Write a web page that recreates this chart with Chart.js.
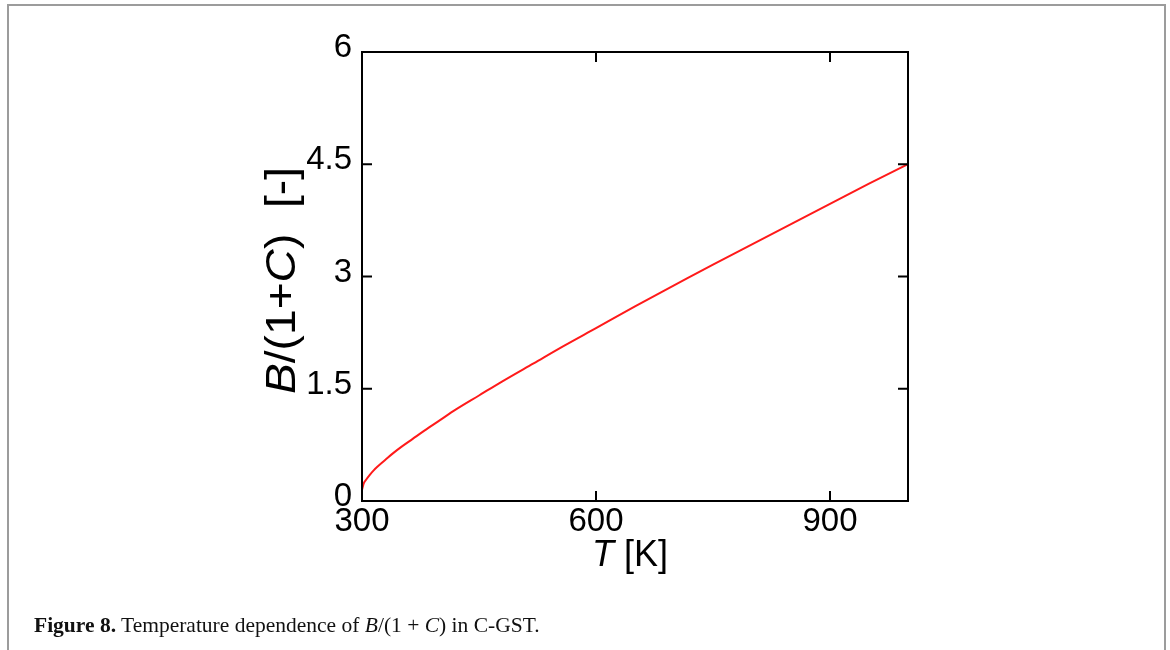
<!DOCTYPE html>
<html lang="en">
<head>
    <meta charset="UTF-8">
    <title>Figure 8</title>
    <script src="https://cdn.jsdelivr.net/npm/chart.js"></script>
    <style>
        body {
            margin: 0;
            background: #ffffff;
            width: 1170px;
            height: 650px;
            overflow: hidden;
            position: relative;
        }
        .frame {
            position: absolute;
            left: 7px;
            top: 4px;
            width: 1155px;
            height: 700px;
            border: 2px solid #9c9c9c;
        }
        .chart-box {
            position: absolute;
            left: 0;
            top: 0;
            width: 1170px;
            height: 650px;
        }
        .caption {
            position: absolute;
            left: 34px;
            top: 614px;
            font-family: 'Liberation Serif', serif;
            font-size: 21.5px;
            line-height: 1.107;
            color: #111;
            white-space: nowrap;
        }
    </style>
</head>
<body>
    <div class="frame"></div>
    <div class="chart-box">
        <canvas id="chart" width="1170" height="650"></canvas>
    </div>
    <div class="caption"><b>Figure 8.</b> Temperature dependence of <i>B</i>/(1 + <i>C</i>) in C-GST.</div>

<script>
// values
const temps = [300, 302, 305, 310, 315, 320, 330, 340, 350, 365, 380, 400, 420, 450, 480,
               520, 560, 600, 650, 700, 750, 800, 850, 900, 950, 1000];
const ratio = [0.15, 0.23, 0.28, 0.35, 0.41, 0.46, 0.55, 0.64, 0.72, 0.83, 0.94, 1.08, 1.22, 1.41, 1.60,
               1.84, 2.08, 2.31, 2.60, 2.88, 3.16, 3.43, 3.70, 3.97, 4.24, 4.50];
const xTicks = [300, 600, 900];
const yTicks = [0, 1.5, 3, 4.5, 6];

// axis titles, split so the symbols can be italic
const xTitle = [['T', true], [' [K]', false]];
const yTitle = [['B', true], ['/(1+', false], ['C', true], [')  [-]', false]];

const sans = "'Liberation Sans', Arial, sans-serif";
const tickFont = { family: sans, size: 33 };

// draws a run of text pieces starting at (x, y) in the current transform
function drawPieces(ctx, pieces, size, x, y) {
    let cx = x;
    pieces.forEach(([txt, ital]) => {
        ctx.font = (ital ? 'italic ' : '') + size + 'px ' + sans;
        ctx.fillText(txt, cx, y);
        cx += ctx.measureText(txt).width;
    });
    return cx - x;
}

function piecesWidth(ctx, pieces, size) {
    let w = 0;
    pieces.forEach(([txt, ital]) => {
        ctx.font = (ital ? 'italic ' : '') + size + 'px ' + sans;
        w += ctx.measureText(txt).width;
    });
    return w;
}

// box around the plot with inward ticks on all four sides, plus axis titles
const framePlugin = {
    id: 'frame',
    afterDraw(chart) {
        const ctx = chart.ctx;
        const a = chart.chartArea;
        const xs = chart.scales.x, ys = chart.scales.y;
        const len = 10;
        ctx.save();
        ctx.strokeStyle = '#000';
        ctx.lineWidth = 2;
        ctx.strokeRect(a.left, a.top, a.right - a.left, a.bottom - a.top);
        ctx.beginPath();
        xTicks.forEach(v => {
            const px = xs.getPixelForValue(v);
            ctx.moveTo(px, a.bottom); ctx.lineTo(px, a.bottom - len);
            ctx.moveTo(px, a.top); ctx.lineTo(px, a.top + len);
        });
        yTicks.forEach(v => {
            const py = ys.getPixelForValue(v);
            ctx.moveTo(a.left, py); ctx.lineTo(a.left + len, py);
            ctx.moveTo(a.right, py); ctx.lineTo(a.right - len, py);
        });
        ctx.stroke();

        ctx.fillStyle = '#000';
        ctx.textBaseline = 'alphabetic';
        ctx.textAlign = 'left';
        // x title
        const xw = piecesWidth(ctx, xTitle, 36);
        drawPieces(ctx, xTitle, 36, (a.left + a.right) / 2 - 5 - xw / 2, a.bottom + 65);
        // y title, rotated and a little stretched along its length
        const yw = piecesWidth(ctx, yTitle, 42);
        ctx.translate(a.left - 67, (a.top + a.bottom) / 2 + 4);
        ctx.rotate(-Math.PI / 2);
        ctx.scale(1.1, 1);
        drawPieces(ctx, yTitle, 42, -yw / 2, 0);
        ctx.restore();
    }
};

new Chart(document.getElementById('chart'), {
    type: 'line',
    data: {
        datasets: [{
            data: temps.map((t, i) => ({ x: t, y: ratio[i] })),
            borderColor: '#ff1a1a',
            borderWidth: 2,
            pointRadius: 0,
            cubicInterpolationMode: 'monotone',
            fill: false
        }]
    },
    options: {
        responsive: false,
        animation: false,
        layout: { padding: { left: 0, top: 52, right: 262, bottom: 0 } },
        plugins: { legend: { display: false }, tooltip: { enabled: false } },
        scales: {
            x: {
                type: 'linear',
                min: 300,
                max: 1000,
                afterBuildTicks: s => { s.ticks = xTicks.map(v => ({ value: v })); },
                afterFit: s => { s.height = 149; },
                grid: { display: false, drawTicks: false },
                border: { display: false },
                ticks: { font: tickFont, color: '#000', padding: 1, maxRotation: 0 }
            },
            y: {
                type: 'linear',
                min: 0,
                max: 6,
                afterBuildTicks: s => { s.ticks = yTicks.map(v => ({ value: v })); },
                afterFit: s => { s.width = 362; },
                grid: { display: false, drawTicks: false },
                border: { display: false },
                ticks: { font: tickFont, color: '#000', padding: 10, labelOffset: -4 }
            }
        }
    },
    plugins: [framePlugin]
});
</script>
</body>
</html>
